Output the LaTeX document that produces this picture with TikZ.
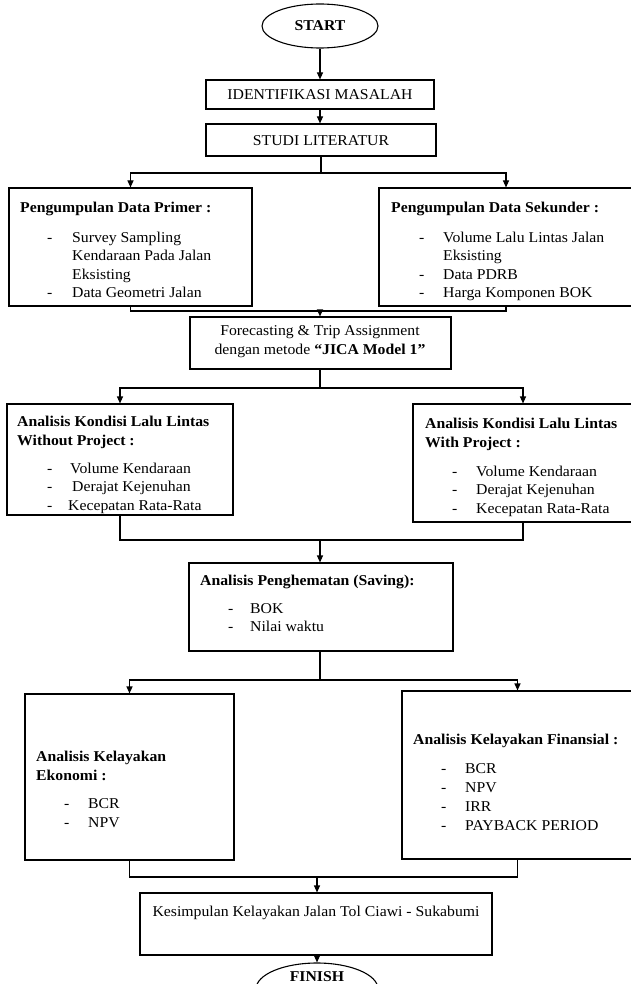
\documentclass[tikz,border=0pt]{standalone}
\usepackage{fontspec}
\setmainfont[FakeStretch=1.05]{Liberation Serif}
\usetikzlibrary{arrows.meta,fit,shapes.geometric}
\begin{document}
\begin{tikzpicture}[x=1pt,y=-1pt,
  box/.style={draw,line width=1.1pt,inner sep=0pt,rectangle},
  oval/.style={draw,line width=1.1pt,ellipse,inner sep=0pt},
  conn/.style={line width=1.1pt},
  arr/.style={line width=1.1pt,-{Triangle[length=7pt,width=6pt]}},
  txt/.style={font=\fontsize{15}{19}\selectfont,inner sep=0pt,anchor=base west},
  btxt/.style={font=\fontsize{15}{19}\selectfont\bfseries,inner sep=0pt,anchor=base west},
  ctxt/.style={font=\fontsize{15}{19}\selectfont,inner sep=0pt,anchor=base},
  bctxt/.style={font=\fontsize{15}{19}\selectfont\bfseries,inner sep=0pt,anchor=base},
]
\useasboundingbox (0,0) rectangle (631,984);

% boxes
\node[oval,minimum width=116pt,minimum height=44pt,font=\fontsize{15}{19}\selectfont\bfseries] (start) at (320,26) {START};
\node[box,fit={(206,80) (434,109)}] (ident) {};
\node[ctxt] (identl) at (320,99.5) {IDENTIFIKASI MASALAH};
\node[box,fit={(206,124) (436,156)}] (studi) {};
\node[ctxt] (studil) at (321,146) {STUDI LITERATUR};
\node[box,fit={(9,188) (252,306)}] (primer) {};
\node[box,fit={(379,188) (633,306)}] (sekunder) {};
\node[box,fit={(190,317) (451,369)}] (forecast) {};
\node[box,fit={(7,404) (233,515)}] (without) {};
\node[box,fit={(413,404) (633,522)}] (with) {};
\node[box,fit={(189,563) (453,651)}] (saving) {};
\node[box,fit={(25,694) (234,860)}] (ekonomi) {};
\node[box,fit={(402,691) (633,859)}] (finansial) {};
\node[box,fit={(140,893) (492,955)}] (kesimpulan) {};
\node[oval,minimum width=122pt,minimum height=52pt] (finish) at (317,989) {};

% texts
\node[btxt] (p0) at (20,213) {Pengumpulan Data Primer :};
\node[txt] (pd1) at (47,242) {-};
\node[txt] (p1) at (72,242) {Survey Sampling};
\node[txt] (p2) at (72,260.5) {Kendaraan Pada Jalan};
\node[txt] (p3) at (72,279) {Eksisting};
\node[txt] (pd4) at (47,297.5) {-};
\node[txt] (p4) at (72,297.5) {Data Geometri Jalan};

\node[btxt] (s0) at (391,213) {Pengumpulan Data Sekunder :};
\node[txt] (sd1) at (419,242) {-};
\node[txt] (s1) at (443,242) {Volume Lalu Lintas Jalan};
\node[txt] (s2) at (443,260.5) {Eksisting};
\node[txt] (sd3) at (419,279) {-};
\node[txt] (s3) at (443,279) {Data PDRB};
\node[txt] (sd4) at (419,297.5) {-};
\node[txt] (s4) at (443,297.5) {Harga Komponen BOK};

\node[ctxt] (f1) at (320,335) {Forecasting \& Trip Assignment};
\node[ctxt] (f2) at (320,354) {dengan metode \textbf{“JICA Model 1”}};

\node[btxt] (w0) at (17,426) {Analisis Kondisi Lalu Lintas};
\node[btxt] (w0b) at (17,445) {Without Project :};
\node[txt] (wd1) at (47,473) {-};
\node[txt] (w1) at (70,473) {Volume Kendaraan};
\node[txt] (wd2) at (47,491.5) {-};
\node[txt] (w2) at (72,491.5) {Derajat Kejenuhan};
\node[txt] (wd3) at (47,510) {-};
\node[txt] (w3) at (68,510) {Kecepatan Rata-Rata};

\node[btxt] (v0) at (425,428) {Analisis Kondisi Lalu Lintas};
\node[btxt] (v0b) at (425,447) {With Project :};
\node[txt] (vd1) at (452,476) {-};
\node[txt] (v1) at (476,476) {Volume Kendaraan};
\node[txt] (vd2) at (452,494.5) {-};
\node[txt] (v2) at (476,494.5) {Derajat Kejenuhan};
\node[txt] (vd3) at (452,513) {-};
\node[txt] (v3) at (476,513) {Kecepatan Rata-Rata};

\node[btxt] (g0) at (200,585) {Analisis Penghematan (Saving):};
\node[txt] (gd1) at (228,613) {-};
\node[txt] (g1) at (250,613) {BOK};
\node[txt] (gd2) at (228,631) {-};
\node[txt] (g2) at (250,631) {Nilai waktu};

\node[btxt] (e0) at (36,761) {Analisis Kelayakan};
\node[btxt] (e0b) at (36,780) {Ekonomi :};
\node[txt] (ed1) at (64,808) {-};
\node[txt] (e1) at (88,808) {BCR};
\node[txt] (ed2) at (64,827) {-};
\node[txt] (e2) at (88,827) {NPV};

\node[btxt] (n0) at (413,744) {Analisis Kelayakan Finansial :};
\node[txt] (nd1) at (441,773) {-};
\node[txt] (n1) at (465,773) {BCR};
\node[txt] (nd2) at (441,792) {-};
\node[txt] (n2) at (465,792) {NPV};
\node[txt] (nd3) at (441,811) {-};
\node[txt] (n3) at (465,811) {IRR};
\node[txt] (nd4) at (441,830) {-};
\node[txt] (n4) at (465,830) {PAYBACK PERIOD};

\node[ctxt] (k1) at (316,916) {Kesimpulan Kelayakan Jalan Tol Ciawi - Sukabumi};
\node[bctxt] (finishl) at (317,981) {FINISH};

% junctions
\coordinate (j1) at (321,173);
\coordinate (j2) at (320,311);
\coordinate (j3) at (320,388);
\coordinate (j4) at (320,540);
\coordinate (j5) at (320,680);
\coordinate (j6) at (317,877);

% connectors
\draw[arr] (start.south) -- (start.south |- ident.north);
\draw[arr] (ident.south -| start.south) -- (start.south |- studi.north);
\draw[conn] (studi.south -| j1) -- (j1);
\draw[arr] (j1) -| (primer.north);
\draw[arr] (j1) -| (sekunder.north);
\draw[conn] (primer.south) |- (j2) -| (sekunder.south);
\draw[arr] (j2) -- (j2 |- forecast.north);
\draw[conn] (forecast.south -| j3) -- (j3);
\draw[arr] (j3) -| (without.north);
\draw[arr] (j3) -| (with.north);
\draw[conn] (without.south) |- (j4) -| (with.south);
\draw[arr] (j4) -- (j4 |- saving.north);
\draw[conn] (saving.south -| j5) -- (j5);
\draw[arr] (j5) -| (ekonomi.north);
\draw[arr] (j5) -| (finansial.north);
\draw[conn] (ekonomi.south) |- (j6) -| (finansial.south);
\draw[arr] (j6) -- (j6 |- kesimpulan.north);
\draw[arr] (kesimpulan.south -| j6) -- (j6 |- finish.north);
\end{tikzpicture}
\end{document}
